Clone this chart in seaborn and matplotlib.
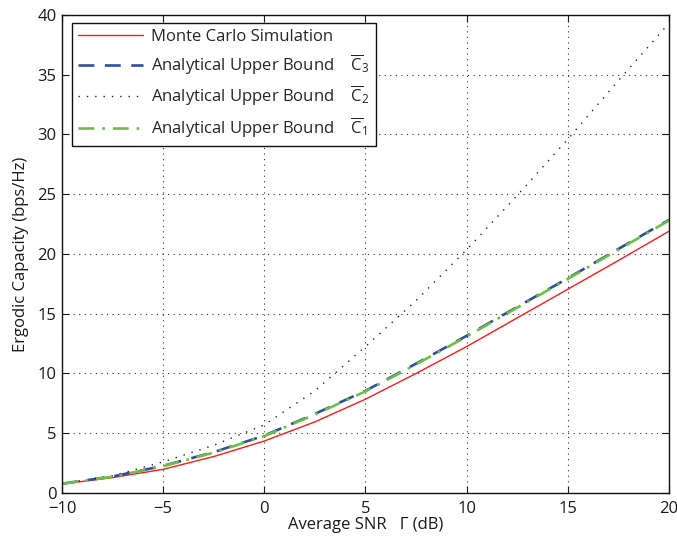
import numpy as np
import pandas as pd
import matplotlib
matplotlib.use("Agg")
import matplotlib.pyplot as plt
import seaborn as sns

# Average SNR (dB) sample points
snr_db = [-10, -7.5, -5, -2.5, 0, 2.5, 5, 7.5, 10, 12.5, 15, 17.5, 20]

# Ergodic capacity (bps/Hz)
monte_carlo = [0.75, 1.29, 1.98, 3.05, 4.35, 5.95, 7.85, 10.0, 12.25, 14.65, 17.05, 19.45, 21.9]
upper_c3 = [0.78, 1.38, 2.27, 3.42, 4.80, 6.62, 8.55, 10.82, 13.15, 15.57, 17.97, 20.42, 22.85]
upper_c2 = [0.80, 1.45, 2.60, 4.00, 5.70, 8.55, 12.25, 16.10, 20.35, 24.90, 29.60, 34.50, 39.30]
upper_c1 = [0.77, 1.36, 2.24, 3.38, 4.76, 6.57, 8.50, 10.76, 13.09, 15.51, 17.91, 20.36, 22.80]

labels = [
    "Monte Carlo Simulation",
    r"Analytical Upper Bound    $\overline{\mathrm{C}}_{3}$",
    r"Analytical Upper Bound    $\overline{\mathrm{C}}_{2}$",
    r"Analytical Upper Bound    $\overline{\mathrm{C}}_{1}$",
]

sns.set_style("ticks")
plt.rcParams["font.family"] = ["Open Sans", "DejaVu Sans"]
plt.rcParams["mathtext.fontset"] = "custom"
plt.rcParams["mathtext.rm"] = "Open Sans"
plt.rcParams["mathtext.it"] = "Open Sans:italic"
plt.rcParams["mathtext.bf"] = "Open Sans:bold"

fig = plt.figure(figsize=(6.77, 5.43), dpi=100)
ax = fig.add_axes([0.0916, 0.0921, 0.8964, 0.8803])

styles = [
    dict(color="#ff1a1a", lw=1.0, ls="-"),
    dict(color="#2f4f9e", lw=1.9, ls=(0, (6, 4))),
    dict(color="#222222", lw=1.0, ls=(0, (1, 5))),
    dict(color="#6cbf45", lw=1.9, ls=(0, (6, 3, 1, 3))),
]

for series, lab, st in zip([monte_carlo, upper_c3, upper_c2, upper_c1], labels, styles):
    df = pd.DataFrame({"snr": snr_db, "cap": series})
    sns.lineplot(data=df, x="snr", y="cap", ax=ax, label=lab,
                 color=st["color"], linewidth=st["lw"], linestyle=st["ls"])

ax.set_xlim(-10, 20)
ax.set_ylim(0, 40)
ax.set_xticks([-10, -5, 0, 5, 10, 15, 20])
ax.set_yticks(range(0, 41, 5))
ax.set_xticklabels(["\u221210", "\u22125", "0", "5", "10", "15", "20"])

ax.grid(True, color="#333333", linestyle=(0, (1, 4)), linewidth=0.8)
ax.tick_params(direction="in", top=True, right=True, length=5, width=0.8,
               labelsize=12, colors="#1a1a1a")
ax.tick_params(axis="x", pad=6)
ax.tick_params(axis="y", pad=4)
for sp in ax.spines.values():
    sp.set_visible(True)
    sp.set_linewidth(1.0)
    sp.set_color("#111111")

ax.set_xlabel("Average SNR   \u0393 (dB)", fontsize=12, labelpad=0, color="#1a1a1a")
ax.set_ylabel("Ergodic Capacity (bps/Hz)", fontsize=12, labelpad=6, color="#1a1a1a")

leg = ax.legend(loc="upper left", bbox_to_anchor=(0.017, 0.983), fontsize=12,
                frameon=True, fancybox=False, framealpha=1, edgecolor="#111111",
                handlelength=3.9, handletextpad=0.5, borderpad=0.35,
                labelspacing=0.45, borderaxespad=0)
leg.get_frame().set_linewidth(1.0)

fig.savefig("out.png", dpi=100)
